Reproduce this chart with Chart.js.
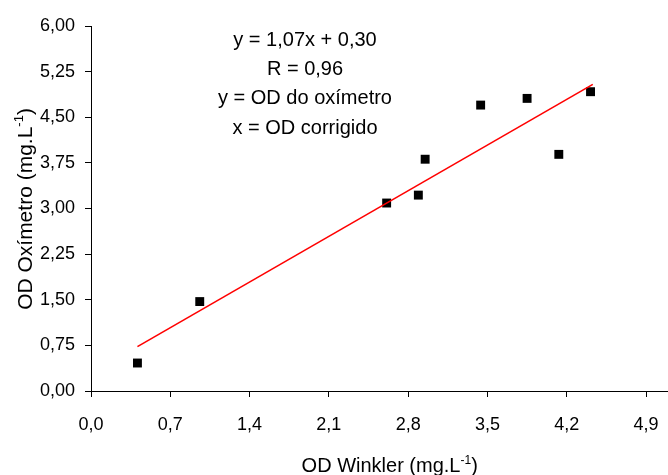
<!DOCTYPE html>
<html>
<head>
<meta charset="utf-8">
<script src="https://cdn.jsdelivr.net/npm/chart.js@4/dist/chart.umd.min.js"></script>
<style>
html,body{margin:0;padding:0;background:#fff;}
#wrap{width:668px;height:475px;}
</style>
</head>
<body>
<div id="wrap"><canvas id="c" width="668" height="475"></canvas></div>
<script>
// Data
const winklerX = [0.41, 0.96, 2.61, 2.89, 2.95, 3.44, 3.85, 4.13, 4.41];
const oximetroY = [0.46, 1.47, 3.09, 3.22, 3.81, 4.70, 4.81, 3.89, 4.92];
const trendX = [0.41, 4.43];
const trendY = [0.73, 5.04];
const xTickValues = [0, 0.7, 1.4, 2.1, 2.8, 3.5, 4.2, 4.9];
const xTickLabels = ['0,0', '0,7', '1,4', '2,1', '2,8', '3,5', '4,2', '4,9'];
const yTickValues = [0, 0.75, 1.5, 2.25, 3, 3.75, 4.5, 5.25, 6];
const yTickLabels = ['0,00', '0,75', '1,50', '2,25', '3,00', '3,75', '4,50', '5,25', '6,00'];
const equationLines = ['y = 1,07x + 0,30', 'R = 0,96', 'y = OD do oxímetro', 'x = OD corrigido'];
const xTitle = ['OD Winkler (mg.L', '-1', ')'];
const yTitle = ['OD Oxímetro (mg.L', '-1', ')'];

const FONT = '"Liberation Sans", Arial, sans-serif';

// let the plot area reach the canvas edge (marks do not need extra outer padding here)
['scatter', 'line'].forEach(n => {
  const C = Chart.registry.getController(n);
  if (C) C.prototype.getMaxOverflow = function () { return 0; };
});

function drawSupTitle(ctx, parts, size) {
  const supSize = Math.round(size * 0.62);
  ctx.font = size + 'px ' + FONT;
  const w0 = ctx.measureText(parts[0]).width;
  const w2 = ctx.measureText(parts[2]).width;
  ctx.font = supSize + 'px ' + FONT;
  const w1 = ctx.measureText(parts[1]).width;
  const total = w0 + w1 + w2;
  let x = -total / 2;
  ctx.textAlign = 'left';
  ctx.textBaseline = 'alphabetic';
  ctx.fillStyle = '#000';
  ctx.font = size + 'px ' + FONT;
  ctx.fillText(parts[0], x, 0);
  x += w0;
  ctx.font = supSize + 'px ' + FONT;
  ctx.fillText(parts[1], x, -size * 0.42);
  x += w1;
  ctx.font = size + 'px ' + FONT;
  ctx.fillText(parts[2], x, 0);
}

const textPlugin = {
  id: 'textPlugin',
  afterDraw(chart) {
    const ctx = chart.ctx;
    ctx.save();
    ctx.fillStyle = '#000';
    ctx.font = '20px ' + FONT;
    ctx.textAlign = 'center';
    ctx.textBaseline = 'alphabetic';
    equationLines.forEach((t, i) => ctx.fillText(t, 305, 46 + 29.2 * i));
    ctx.save();
    ctx.translate(389.7, 472);
    drawSupTitle(ctx, xTitle, 20);
    ctx.restore();
    ctx.save();
    ctx.translate(31.5, 209);
    ctx.rotate(-Math.PI / 2);
    drawSupTitle(ctx, yTitle, 21);
    ctx.restore();
    ctx.restore();
  }
};

const trendData = trendX.map((x, i) => ({x: x, y: trendY[i]}));
const pointData = winklerX.map((x, i) => ({x: x, y: oximetroY[i]}));

new Chart(document.getElementById('c'), {
  type: 'scatter',
  data: {
    datasets: [
      {
        type: 'line',
        data: trendData,
        borderColor: '#ff0000',
        borderWidth: 1.6,
        pointRadius: 0,
        fill: false,
        tension: 0
      },
      {
        data: pointData,
        pointStyle: 'rect',
        pointRadius: 6.3,
        pointHoverRadius: 6.3,
        backgroundColor: '#000',
        borderColor: '#000',
        borderWidth: 0
      }
    ]
  },
  options: {
    responsive: false,
    animation: false,
    events: [],
    layout: {padding: {top: 26, right: 0, bottom: 0, left: 0}},
    plugins: {legend: {display: false}, tooltip: {enabled: false}},
    scales: {
      x: {
        type: 'linear',
        min: 0,
        max: 5.094,
        afterBuildTicks(s) { s.ticks = xTickValues.map(v => ({value: v})); },
        afterFit(s) { s.height = 84; s.paddingLeft = 0; s.paddingRight = 0; },
        grid: {drawOnChartArea: false, drawTicks: true, tickLength: 6, color: '#000'},
        border: {display: true, color: '#000', width: 1},
        ticks: {
          color: '#000',
          font: {family: FONT, size: 18},
          padding: 17,
          maxRotation: 0,
          autoSkip: false,
          callback(v) { const i = xTickValues.indexOf(v); return i >= 0 ? xTickLabels[i] : ''; }
        }
      },
      y: {
        type: 'linear',
        min: 0,
        max: 6,
        afterBuildTicks(s) { s.ticks = yTickValues.map(v => ({value: v})); },
        afterFit(s) { s.width = 91; s.paddingTop = 0; s.paddingBottom = 0; },
        grid: {drawOnChartArea: false, drawTicks: true, tickLength: 6, color: '#000'},
        border: {display: true, color: '#000', width: 1},
        ticks: {
          color: '#000',
          font: {family: FONT, size: 18},
          padding: 10,
          autoSkip: false,
          callback(v) { const i = yTickValues.indexOf(v); return i >= 0 ? yTickLabels[i] : ''; }
        }
      }
    }
  },
  plugins: [textPlugin]
});
</script>
</body>
</html>
